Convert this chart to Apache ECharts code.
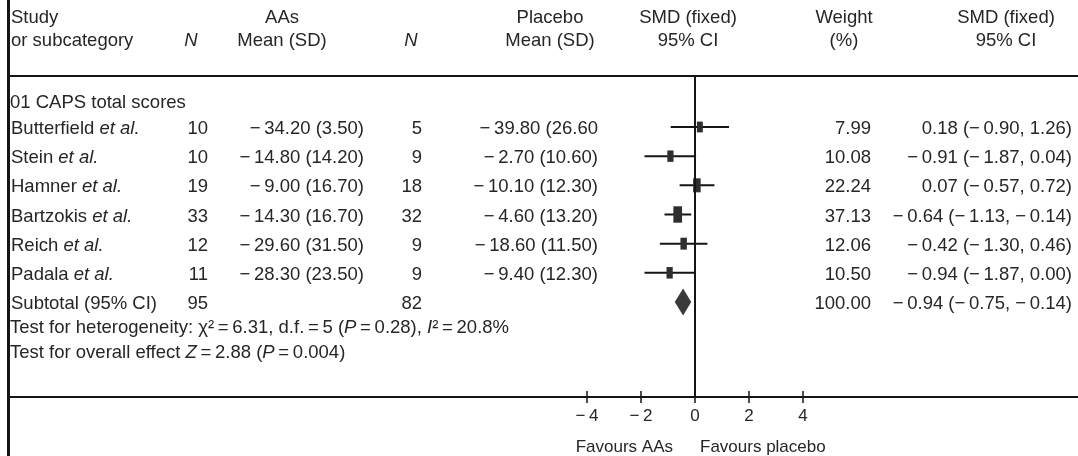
<!DOCTYPE html>
<html>
<head>
<meta charset="utf-8">
<script src="https://cdn.jsdelivr.net/npm/echarts@6/dist/echarts.min.js"></script>
<style>
html,body{margin:0;padding:0;background:#fff;}
#c{width:1078px;height:456px;}
</style>
</head>
<body>
<div id="c"></div>
<script>
// ---------- data ----------
const groupTitle = '01 CAPS total scores';
const studies = ['Butterfield', 'Stein', 'Hamner', 'Bartzokis', 'Reich', 'Padala'];
const nAAs = [10, 10, 19, 33, 12, 11];
const meanAAs = ['−34.20 (3.50)', '−14.80 (14.20)', '−9.00 (16.70)', '−14.30 (16.70)', '−29.60 (31.50)', '−28.30 (23.50)'];
const nPlacebo = [5, 9, 18, 32, 9, 9];
const meanPlacebo = ['−39.80 (26.60', '−2.70 (10.60)', '−10.10 (12.30)', '−4.60 (13.20)', '−18.60 (11.50)', '−9.40 (12.30)'];
const smd = [0.18, -0.91, 0.07, -0.64, -0.42, -0.94];
const ciLow = [-0.90, -1.87, -0.57, -1.13, -1.30, -1.87];
const ciHigh = [1.26, 0.04, 0.72, -0.14, 0.46, 0.00];
const weights = [7.99, 10.08, 22.24, 37.13, 12.06, 10.50];
const ciLabels = ['0.18 (−0.90, 1.26)', '−0.91 (−1.87, 0.04)', '0.07 (−0.57, 0.72)', '−0.64 (−1.13, −0.14)', '−0.42 (−1.30, 0.46)', '−0.94 (−1.87, 0.00)'];
const subtotalN = [95, 82];
const subtotalWeight = '100.00';
const subtotalCI = [-0.75, -0.14];
const subtotalPoint = -0.44;
const subtotalLabel = '−0.94 (−0.75, −0.14)';
const hetText = 'Test for heterogeneity: χ²=6.31, d.f.=5 (P=0.28), I²=20.8%';
const overallText = 'Test for overall effect Z=2.88 (P=0.004)';
const tickValues = [-4, -2, 0, 2, 4];

// ---------- layout ----------
const FONT = '"Liberation Sans", Arial, Helvetica, sans-serif';
const TXT = '#262626';
const INK = '#151515';
const FS = 18.5;
const TY = 2; // text offset below the mark row
const COL = {name: 11, n1: 208, m1: 364, n2: 422, m2: 598, w: 871, ci: 1072};
const X_MIN = (9 - 695) / 27, X_MAX = (1078 - 695) / 27;
const Y_MIN = -0.748, Y_MAX = 10.257;

// typographic spacing: thin space after minus signs and around '='
const sp = s => s.replace(/−/g, '−\u2009');
const eq = s => s.replace(/=/g, '\u2009=\u2009');

const chart = echarts.init(document.getElementById('c'), null, {renderer: 'canvas'});

function T(x, y, text, align, extra) {
  return {
    type: 'text', x: x, y: y, silent: true,
    style: Object.assign({
      text: text, fill: TXT, fontFamily: FONT, fontSize: FS,
      align: align || 'left', verticalAlign: 'middle'
    }, extra || {})
  };
}
const RICH = {
  n: {fontFamily: FONT, fontSize: FS, color: TXT},
  i: {fontFamily: FONT, fontSize: FS, color: TXT, fontStyle: 'italic'}
};
function richItalic(text, letters) {
  const re = new RegExp('(' + letters.join('|') + ')(?=[\\u2009=²])', 'g');
  let s = '', last = 0, m;
  while ((m = re.exec(text)) !== null) {
    if (m.index > last) s += '{n|' + text.slice(last, m.index) + '}';
    s += '{i|' + m[1] + '}';
    last = m.index + m[1].length;
  }
  if (last < text.length) s += '{n|' + text.slice(last) + '}';
  return s;
}

// rows of the table: 0 title, 1..6 studies, 7 subtotal, 8 heterogeneity, 9 overall
const tableRows = [0.1, 1, 2, 3, 4, 5, 6, 7, 7.89, 8.75].map(r => [0, r]);

function renderTable(params, api) {
  const idx = params.dataIndex;
  const y = api.coord([0, api.value(1)])[1];
  const kids = [];
  if (idx === 0) {
    kids.push(T(COL.name - 1, y + TY, groupTitle));
  } else if (idx >= 1 && idx <= 6) {
    const i = idx - 1, yy = y + TY;
    kids.push(T(COL.name, yy, '{n|' + studies[i] + ' }{i|et al.}', 'left', {rich: RICH}));
    kids.push(T(COL.n1, yy, String(nAAs[i]), 'right'));
    kids.push(T(COL.m1, yy, sp(meanAAs[i]), 'right'));
    kids.push(T(COL.n2, yy, String(nPlacebo[i]), 'right'));
    kids.push(T(COL.m2, yy, sp(meanPlacebo[i]), 'right'));
    kids.push(T(COL.w, yy, weights[i].toFixed(2), 'right'));
    kids.push(T(COL.ci, yy, sp(ciLabels[i]), 'right'));
  } else if (idx === 7) {
    const yy = y + TY;
    kids.push(T(COL.name, yy, 'Subtotal (95% CI)'));
    kids.push(T(COL.n1, yy, String(subtotalN[0]), 'right'));
    kids.push(T(COL.n2, yy, String(subtotalN[1]), 'right'));
    kids.push(T(COL.w, yy, subtotalWeight, 'right'));
    kids.push(T(COL.ci, yy, sp(subtotalLabel), 'right'));
  } else if (idx === 8) {
    kids.push(T(COL.name - 1, y, richItalic(eq(hetText), ['P', 'I']), 'left', {rich: RICH}));
  } else if (idx === 9) {
    kids.push(T(COL.name - 1, y, richItalic(eq(overallText), ['Z', 'P']), 'left', {rich: RICH}));
  }
  return {type: 'group', children: kids};
}

function renderStudy(params, api) {
  const r = api.value(3);
  const lo = api.coord([api.value(0), r]);
  const hi = api.coord([api.value(1), r]);
  const pt = api.coord([api.value(2), r]);
  const wt = api.value(4);
  const w = 3.5 + 0.85 * Math.sqrt(wt);
  const h = 6 + 1.7 * Math.sqrt(wt);
  return {
    type: 'group',
    children: [
      {type: 'line', shape: {x1: lo[0], y1: lo[1], x2: hi[0], y2: hi[1]}, style: {stroke: INK, lineWidth: 2}},
      {type: 'rect', shape: {x: pt[0] - w / 2, y: pt[1] - h / 2, width: w, height: h}, style: {fill: '#2e2e2e'}}
    ]
  };
}

function renderDiamond(params, api) {
  const r = api.value(3);
  const lo = api.coord([api.value(0), r]);
  const hi = api.coord([api.value(1), r]);
  const pt = api.coord([api.value(2), r]);
  const h = 27;
  return {
    type: 'polygon',
    shape: {points: [[lo[0], lo[1]], [pt[0], pt[1] - h / 2], [hi[0], hi[1]], [pt[0], pt[1] + h / 2]]},
    style: {fill: '#3a3a3a'}
  };
}

const fmtTick = v => (v < 0 ? '−\u2009' + Math.abs(v) : String(v));

const option = {
  animation: false,
  backgroundColor: '#ffffff',
  grid: {left: 9, right: 0, top: 76, bottom: 59, containLabel: false},
  xAxis: [
    {
      type: 'value', min: X_MIN, max: X_MAX, position: 'bottom',
      axisLine: {show: true, onZero: false, lineStyle: {color: INK, width: 2}},
      axisTick: {show: true, customValues: tickValues, length: 6, lineStyle: {color: INK, width: 1.5}},
      axisLabel: {show: true, customValues: tickValues, formatter: fmtTick, margin: 11, fontSize: 17, color: TXT, fontFamily: FONT},
      splitLine: {show: false}
    },
    {
      type: 'value', min: X_MIN, max: X_MAX, position: 'top',
      axisLine: {show: true, onZero: false, lineStyle: {color: INK, width: 2}},
      axisTick: {show: false}, axisLabel: {show: false}, splitLine: {show: false}
    },
    {
      type: 'value', min: X_MIN, max: X_MAX, position: 'bottom',
      axisLine: {show: false, onZero: false},
      axisTick: {show: true, inside: true, customValues: tickValues, length: 6, lineStyle: {color: INK, width: 1.5}},
      axisLabel: {show: false}, splitLine: {show: false}
    }
  ],
  yAxis: {type: 'value', inverse: true, min: Y_MIN, max: Y_MAX, show: false},
  series: [
    {
      type: 'line', data: [], silent: true,
      markLine: {
        silent: true, symbol: ['none', 'none'], label: {show: false},
        lineStyle: {color: INK, width: 2, type: 'solid'},
        data: [{xAxis: 0}]
      }
    },
    {
      type: 'custom', name: 'studies', renderItem: renderStudy,
      encode: {x: [0, 1, 2], y: 3},
      data: studies.map((s, i) => [ciLow[i], ciHigh[i], smd[i], i + 1, weights[i]]),
      z: 3
    },
    {
      type: 'custom', name: 'subtotal', renderItem: renderDiamond,
      encode: {x: [0, 1, 2], y: 3},
      data: [[subtotalCI[0], subtotalCI[1], subtotalPoint, 7]],
      z: 3
    },
    {
      type: 'custom', name: 'table', renderItem: renderTable,
      encode: {x: 0, y: 1}, data: tableRows, z: 4, silent: true
    }
  ],
  graphic: [
    {type: 'rect', shape: {x: 7, y: 0, width: 3, height: 456}, style: {fill: INK}, z: 10},
    T(11, 18, 'Study'), T(11, 41, 'or subcategory'),
    T(191, 41, 'N', 'center', {fontStyle: 'italic'}),
    T(282, 18, 'AAs', 'center'), T(282, 41, 'Mean (SD)', 'center'),
    T(411, 41, 'N', 'center', {fontStyle: 'italic'}),
    T(550, 18, 'Placebo', 'center'), T(550, 41, 'Mean (SD)', 'center'),
    T(688, 18, 'SMD (fixed)', 'center'), T(688, 41, '95% CI', 'center'),
    T(844, 18, 'Weight', 'center'), T(844, 41, '(%)', 'center'),
    T(1006, 18, 'SMD (fixed)', 'center'), T(1006, 41, '95% CI', 'center'),
    T(673, 447, 'Favours AAs', 'right', {fontSize: 17}),
    T(700, 447, 'Favours placebo', 'left', {fontSize: 17})
  ]
};
chart.setOption(option);
</script>
</body>
</html>
